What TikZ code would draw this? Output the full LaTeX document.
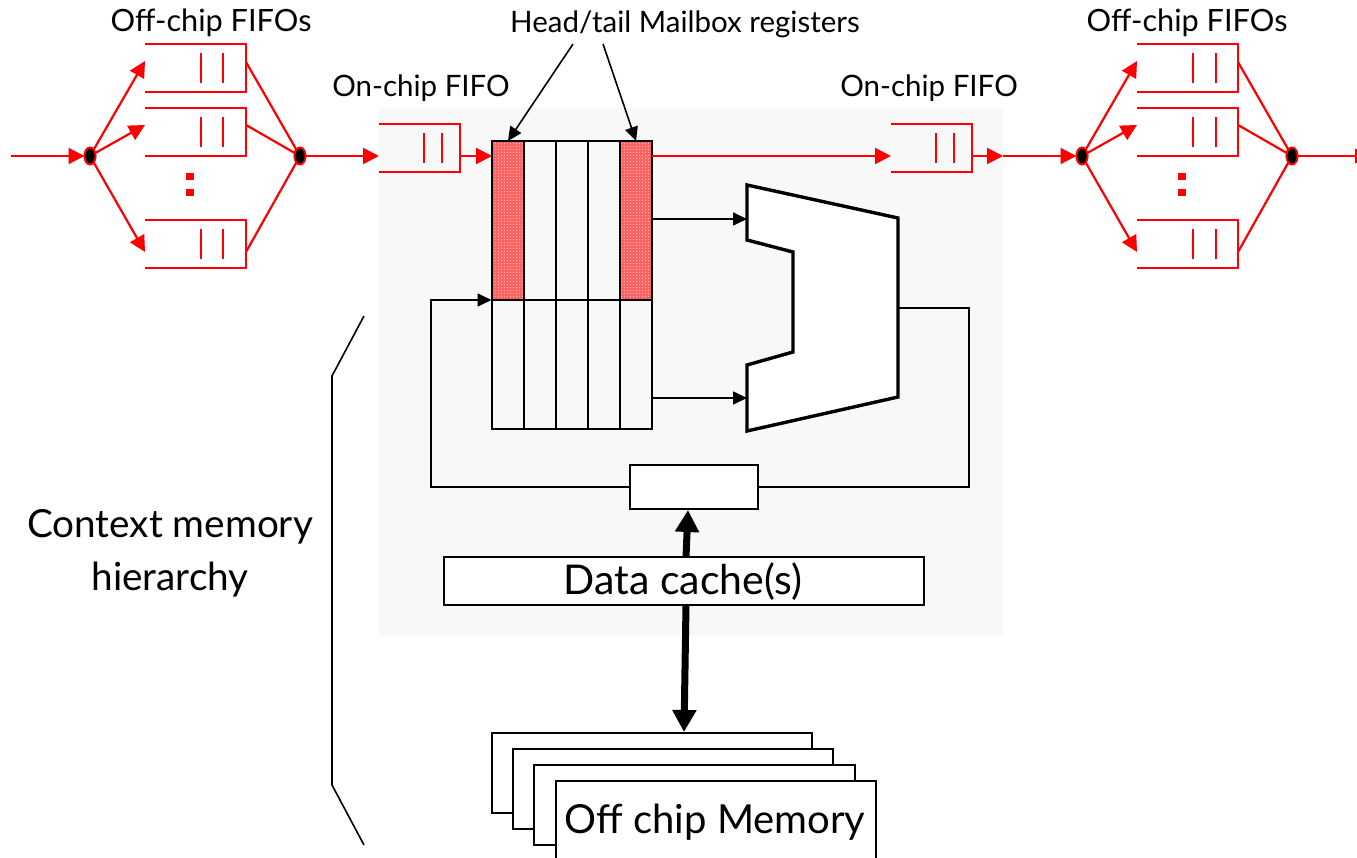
\documentclass[tikz,border=0pt]{standalone}
\usepackage{fontspec}
\setmainfont{Lato}
\usetikzlibrary{arrows.meta,calc,patterns,shapes.geometric}
\definecolor{panel}{HTML}{F8F8F8}
\definecolor{hatch}{HTML}{FF6464}
\pgfdeclarepatternformonly{checkerfine}{\pgfqpoint{0pt}{0pt}}{\pgfqpoint{2pt}{2pt}}{\pgfqpoint{3pt}{3pt}}{%
  \pgfpathrectangle{\pgfqpoint{0pt}{0pt}}{\pgfqpoint{1pt}{1pt}}%
  \pgfusepath{fill}%
}
\tikzset{
  x=1pt,y=-1pt,
  redline/.style={draw=red,line width=2.2pt},
  redarrow/.style={redline,-{Triangle[length=16pt,width=16pt]}},
  thin black/.style={draw=black,line width=1.6pt},
  blackarrow/.style={thin black,-{Triangle[length=14pt,width=13pt]}},
  heavy/.style={draw=black,line width=7pt,-{Triangle[length=22pt,width=23pt]}},
  cell/.style={draw=black,line width=2.2pt,minimum width=32pt,inner sep=0pt,outer sep=0pt},
  hotcell/.style={cell,fill=hatch},
  junction/.style={ellipse,draw=red,fill=black,line width=1.8pt,minimum width=11pt,minimum height=17pt,inner sep=0pt,outer sep=0pt},
  memcard/.style={draw=black,line width=2pt,fill=white,minimum width=320pt,inner sep=0pt,outer sep=0pt},
  plainbox/.style={draw=black,line width=1.8pt,fill=white,inner sep=0pt,outer sep=0pt},
  smalllabel/.style={font=\fontsize{29.5}{34}\selectfont,inner sep=0pt},
  offlabel/.style={font=\fontsize{30.7}{34}\selectfont,inner sep=0pt},
  biglabel/.style={font=\fontsize{38.7}{46}\selectfont,inner sep=0pt},
  dotmark/.style={fill=red,draw=none,minimum width=7.5pt,minimum height=7.5pt,inner sep=0pt},
}
% \fifobox{name}{left}{right}{top}{bar1}{bar2}{in offset}{out offset}
\newcommand{\fifobox}[8]{%
  \draw[redline] (#2,#4) -- (#3,#4) -- (#3,#4+48) -- (#2,#4+48);
  \draw[redline] (#5,#4+9) -- (#5,#4+39);
  \draw[redline] (#6,#4+9) -- (#6,#4+39);
  \coordinate (#1-in) at (#2,#4+#7);
  \coordinate (#1-out) at (#3,#4+#8);
}
\begin{document}
\begin{tikzpicture}
\useasboundingbox (0,0) rectangle (1357,858);
\fill[white] (0,0) rectangle (1357,858);
\fill[panel] (379,108) rectangle (1003,636);

% left off-chip group
\node[offlabel] (offL) at (211,23) {Off-chip FIFOs};
\fifobox{la}{145}{246}{44}{201}{223}{17}{18}
\fifobox{lb}{145}{246}{108}{201}{223}{17}{17}
\fifobox{lc}{145}{246}{220}{201}{223}{32}{32}
\node[dotmark] (ldot1) at (190,176.5) {};
\node[dotmark] (ldot2) at (190,192.5) {};
\coordinate (startL) at (11,156);
\node[junction] (jl1) at (90,156) {};
\node[junction] (jl2) at (300,156) {};
\draw[redarrow] (startL) -- (jl1.west);
\draw[redarrow] (jl1) -- (la-in);
\draw[redarrow] (jl1) -- (lb-in);
\draw[redarrow] (jl1) -- (lc-in);
\draw[redline] (la-out) -- (jl2);
\draw[redline] (lb-out) -- (jl2);
\draw[redline] (lc-out) -- (jl2);
\node[junction] at (90,156) {};
\node[junction] at (300,156) {};

% on-chip FIFOs
\node[smalllabel] (onL) at (421,88) {On-chip FIFO};
\node[smalllabel] (onR) at (929,88) {On-chip FIFO};
\fifobox{ol}{379}{460}{124}{424}{442}{32}{32}
\fifobox{or}{891}{972}{124}{936}{954}{32}{32}
\draw[redarrow] (jl2.east) -- (ol-in);

% register file
\foreach \i/\x in {1/508,2/540,3/572,4/604,5/636}{
  \node[cell,minimum height=129pt] (low\i) at (\x,364.5) {};
}
\node[hotcell,minimum height=159pt] (top1) at (508,220.5) {};
\node[cell,minimum height=159pt] (top2) at (540,220.5) {};
\node[cell,minimum height=159pt] (top3) at (572,220.5) {};
\node[cell,minimum height=159pt] (top4) at (604,220.5) {};
\node[hotcell,minimum height=159pt] (top5) at (636,220.5) {};
\fill[pattern=checkerfine,pattern color=white,opacity=.55] (493,142) rectangle (523,299);
\fill[pattern=checkerfine,pattern color=white,opacity=.55] (621,142) rectangle (651,299);
\draw[redarrow] (ol-out) -- (top1.west |- ol-out);
\draw[redarrow] (top5.east |- or-in) -- (or-in);

% right off-chip group
\node[offlabel] (offR) at (1187,23) {Off-chip FIFOs};
\fifobox{ra}{1137}{1238}{44}{1193}{1216}{17}{18}
\fifobox{rb}{1137}{1238}{108}{1193}{1216}{17}{17}
\fifobox{rc}{1137}{1238}{220}{1193}{1216}{32}{32}
\node[dotmark] (rdot1) at (1182,176.5) {};
\node[dotmark] (rdot2) at (1182,192.5) {};
\node[junction] (jr1) at (1082,156) {};
\node[junction] (jr2) at (1292,156) {};
\coordinate (mid) at (1003,156);
\coordinate (endR) at (1356,156);
\draw[redarrow] (or-out) -- (mid);
\draw[redarrow] (mid) -- (jr1.west);
\draw[redarrow] (jr1) -- (ra-in);
\draw[redarrow] (jr1) -- (rb-in);
\draw[redarrow] (jr1) -- (rc-in);
\draw[redline] (ra-out) -- (jr2);
\draw[redline] (rb-out) -- (jr2);
\draw[redline] (rc-out) -- (jr2);
\draw[redline] (jr2.east) -- (endR);
\draw[redline] (1356,149) -- (1356,163);
\node[junction] at (1082,156) {};
\node[junction] at (1292,156) {};

% mailbox label
\node[smalllabel] (mail) at (685,24) {Head/tail Mailbox registers};
\coordinate (mailA) at (573,44);
\coordinate (mailB) at (603,44);
\draw[blackarrow] (mailA) -- (top1.north);
\draw[blackarrow] (mailB) -- (top5.north);

% ALU
\draw[draw=black,line width=3.4pt,fill=white,line join=miter]
  (747,185) -- (898,218) -- (898,397) -- (747,431) -- (747,365) -- (793,352) -- (793,252) -- (747,240) -- cycle;
\coordinate (aluA) at (747,219);
\coordinate (aluB) at (747,398);
\coordinate (aluOut) at (898,308);
\draw[blackarrow] (top5.east |- aluA) -- (aluA);
\draw[blackarrow] (low5.east |- aluB) -- (aluB);

% register / feedback
\node[plainbox,minimum width=128pt,minimum height=44pt] (reg) at (694,487) {};
\coordinate (fbR) at (969,308);
\coordinate (fbL) at (431,487);
\coordinate (fbT) at (431,300);
\coordinate (fbE) at (491.5,300);
\draw[thin black] (aluOut) -- (fbR) -- (969,487) -- (reg.east);
\draw[blackarrow] (reg.west) -- (fbL) -- (fbT) -- (fbE);

% cache and memory
\node[plainbox,minimum width=480pt,minimum height=48pt] (cache) at (684,581) {};
\node[font=\fontsize{41}{48}\selectfont,inner sep=0pt] (cachetext) at (683,582) {Data cache(s)};
\node[memcard,minimum height=80pt] (m1) at (652,773) {};
\node[memcard,minimum height=80pt] (m2) at (673,789) {};
\node[memcard,minimum height=80pt,minimum width=321pt] (m3) at (694.5,805) {};
\node[memcard,minimum height=90pt] (m4) at (716,826) {};
\node[font=\fontsize{40}{46}\selectfont,inner sep=0pt] (memtext) at (715,822) {Off chip Memory};
\draw[heavy] (686,557) -- (688,510);
\draw[heavy] (686,605) -- (684,732);

% hierarchy bracket and label
\coordinate (b1) at (364,316);
\coordinate (b2) at (332,376);
\coordinate (b3) at (332,785);
\coordinate (b4) at (364,845);
\draw[thin black] (b1) -- (b2) -- (b3) -- (b4);
\node[biglabel] (ctx1) at (170,527) {Context memory};
\node[biglabel] (ctx2) at (170,580) {hierarchy};
\end{tikzpicture}
\end{document}
